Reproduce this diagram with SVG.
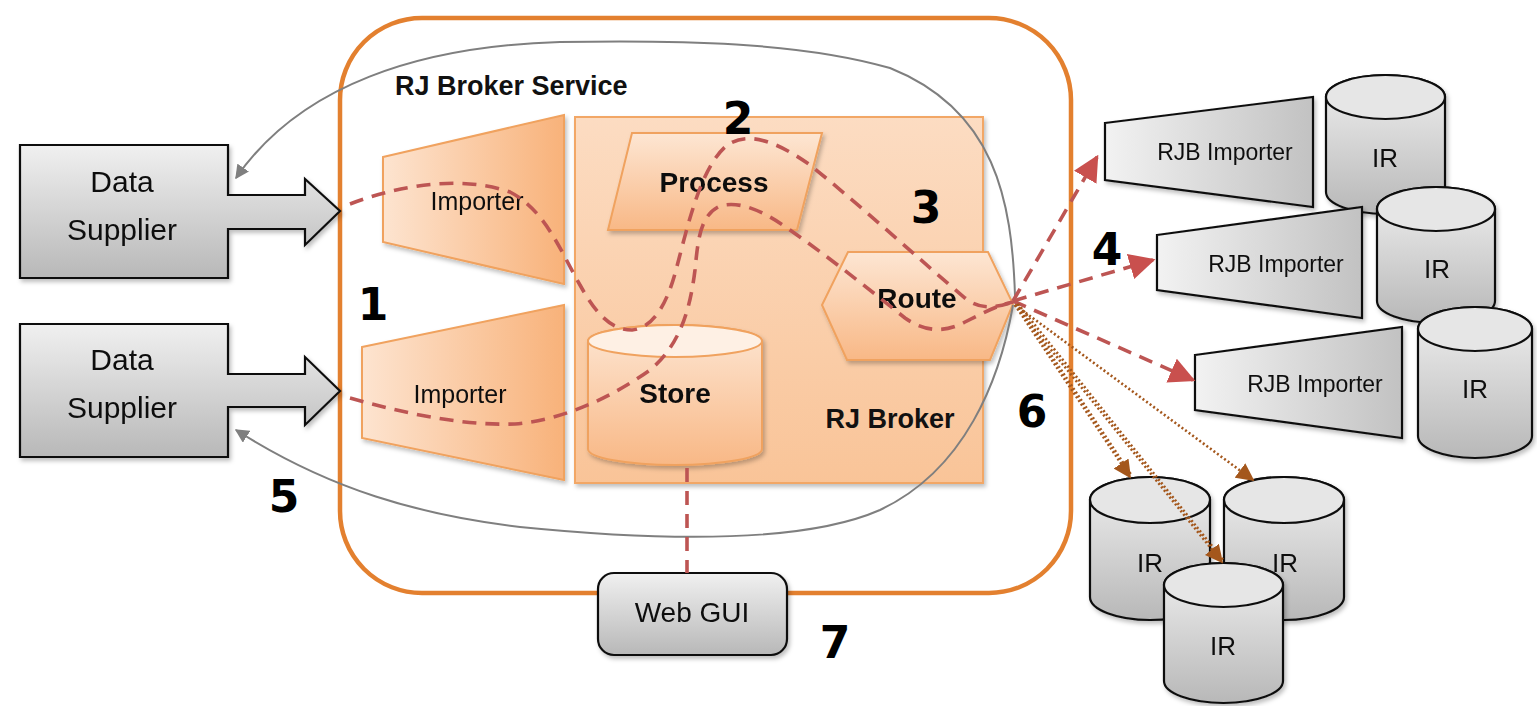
<svg xmlns="http://www.w3.org/2000/svg" width="1537" height="706" viewBox="0 0 1537 706">
<defs>
<style>
.t{font-family:"Liberation Sans",Arial,sans-serif;fill:#111;text-anchor:middle}
.b{font-weight:bold}
.num{font-family:"DejaVu Sans",Verdana,sans-serif;font-weight:bold;font-size:44px;fill:#000;text-anchor:middle}
.gray{fill:url(#gGray);stroke:#111;stroke-width:2.2}
.grayL{fill:#e6e6e6;stroke:#111;stroke-width:2.2}
.org{stroke:#f0a25e;stroke-width:2}
.dash{fill:none;stroke:#bd5553;stroke-width:3.6;stroke-dasharray:14 9}
.loop{fill:none;stroke:#7f7f7f;stroke-width:2}
.dot{fill:none;stroke:#a4571c;stroke-width:2.6;stroke-dasharray:2 2.4}
</style>
<linearGradient id="gGray" x1="0" y1="0" x2="0" y2="1"><stop offset="0" stop-color="#f0f0f0"/><stop offset="1" stop-color="#b8b8b8"/></linearGradient>
<linearGradient id="gGrayH" x1="0" y1="0" x2="1" y2="0"><stop offset="0" stop-color="#f2f2f2"/><stop offset="1" stop-color="#c2c2c2"/></linearGradient>
<linearGradient id="gOrgH" x1="0" y1="0" x2="1" y2="0"><stop offset="0" stop-color="#fde4d0"/><stop offset="1" stop-color="#f8b27a"/></linearGradient>
<linearGradient id="gOrgV" x1="0" y1="0" x2="0" y2="1"><stop offset="0" stop-color="#fde6d3"/><stop offset="1" stop-color="#f8b886"/></linearGradient>
<linearGradient id="gBroker" x1="0" y1="0" x2="0" y2="1"><stop offset="0" stop-color="#fcdcc2"/><stop offset="1" stop-color="#f9c498"/></linearGradient>
<filter id="sh" x="-10%" y="-10%" width="130%" height="130%"><feDropShadow dx="2" dy="3" stdDeviation="2" flood-color="#000" flood-opacity="0.25"/></filter>
<marker id="mGray" viewBox="0 0 10 10" refX="9" refY="5" markerWidth="14" markerHeight="14" markerUnits="userSpaceOnUse" orient="auto"><path d="M0 0 L10 5 L0 10 Z" fill="#7f7f7f"/></marker>
<marker id="mRed" viewBox="0 0 10 10" refX="9" refY="5" markerWidth="26" markerHeight="26" markerUnits="userSpaceOnUse" orient="auto"><path d="M0 0 L10 5 L0 10 Z" fill="#c9504e"/></marker>
<marker id="mBrown" viewBox="0 0 10 10" refX="9" refY="5" markerWidth="18" markerHeight="18" markerUnits="userSpaceOnUse" orient="auto"><path d="M0 0 L10 5 L0 10 Z" fill="#a4571c"/></marker>
</defs>
<rect width="1537" height="706" fill="#fff"/>

<g id="service">
<rect x="340" y="18" width="731" height="575" rx="82" fill="none" stroke="#e3802f" stroke-width="4.5"/>
<text class="t b" x="395" y="95" font-size="27" style="text-anchor:start">RJ Broker Service</text>
</g>

<g id="rj-broker">
<rect x="575" y="117" width="408" height="366" fill="url(#gBroker)" stroke="#f2a766" stroke-width="2" filter="url(#sh)"/>
<text class="t b" x="890" y="428" font-size="27">RJ Broker</text>
</g>

<g id="supplier1" filter="url(#sh)">
<path class="gray" d="M20 145 H228 V195 H305 V179 L340 211 L305 245 V229 H228 V278 H20 Z"/>
<text class="t" x="122" y="192" font-size="30">Data</text>
<text class="t" x="122" y="240" font-size="30">Supplier</text>
</g>
<g id="supplier2" filter="url(#sh)">
<path class="gray" d="M20 324 H228 V374 H305 V357 L340 391 L305 425 V407 H228 V457 H20 Z"/>
<text class="t" x="122" y="370" font-size="30">Data</text>
<text class="t" x="122" y="418" font-size="30">Supplier</text>
</g>

<g id="importer1" filter="url(#sh)">
<path class="org" d="M383 157 L564 115 L564 284 L383 242 Z" fill="url(#gOrgH)"/>
<text class="t" x="477" y="210" font-size="25">Importer</text>
</g>
<g id="importer2" filter="url(#sh)">
<path class="org" d="M362 347 L564 305 L564 480 L362 438 Z" fill="url(#gOrgH)"/>
<text class="t" x="460" y="403" font-size="25">Importer</text>
</g>

<g id="process" filter="url(#sh)">
<path class="org" d="M632 133 L822 133 L797 230 L608 230 Z" fill="url(#gOrgV)"/>
<text class="t b" x="714" y="192" font-size="28">Process</text>
</g>

<g id="route" filter="url(#sh)">
<path class="org" d="M848 252 L988 252 L1013 304 L990 360 L847 360 L822 305 Z" fill="url(#gOrgV)"/>
<text class="t b" x="917" y="308" font-size="28">Route</text>
</g>

<g id="store" filter="url(#sh)">
<path class="org" d="M588 341 A87 16 0 0 1 762 341 V449 A87 16 0 0 1 588 449 Z" fill="url(#gOrgV)"/>
<ellipse class="org" cx="675" cy="341" rx="87" ry="16" fill="#fef0e4"/>
<text class="t b" x="675" y="403" font-size="28">Store</text>
</g>

<g id="webgui" filter="url(#sh)">
<rect class="gray" x="598" y="573" width="189" height="82" rx="16"/>
<text class="t" x="692" y="622" font-size="28">Web GUI</text>
</g>

<g id="ir1" filter="url(#sh)">
<path class="gray" d="M1326 97 A59.5 22 0 0 1 1445 97 V192 A59.5 22 0 0 1 1326 192 Z"/>
<ellipse class="grayL" cx="1385.5" cy="97" rx="59.5" ry="22"/>
<text class="t" x="1385" y="167" font-size="26">IR</text>
</g>
<g id="rjb1" filter="url(#sh)">
<path d="M1105 123 L1313 97 L1313 207 L1105 180 Z" fill="url(#gGrayH)" stroke="#111" stroke-width="2.2"/>
<text class="t" x="1225" y="160" font-size="23">RJB Importer</text>
</g>
<g id="ir2" filter="url(#sh)">
<path class="gray" d="M1377 209 A59 22 0 0 1 1495 209 V301 A59 22 0 0 1 1377 301 Z"/>
<ellipse class="grayL" cx="1436" cy="209" rx="59" ry="22"/>
<text class="t" x="1437" y="278" font-size="26">IR</text>
</g>
<g id="rjb2" filter="url(#sh)">
<path d="M1157 235 L1362 207 L1362 318 L1157 290 Z" fill="url(#gGrayH)" stroke="#111" stroke-width="2.2"/>
<text class="t" x="1276" y="272" font-size="23">RJB Importer</text>
</g>
<g id="ir3" filter="url(#sh)">
<path class="gray" d="M1418 329 A57 22 0 0 1 1532 329 V436 A57 22 0 0 1 1418 436 Z"/>
<ellipse class="grayL" cx="1475" cy="329" rx="57" ry="22"/>
<text class="t" x="1475" y="398" font-size="26">IR</text>
</g>
<g id="rjb3" filter="url(#sh)">
<path d="M1195 355 L1402 327 L1402 438 L1195 410 Z" fill="url(#gGrayH)" stroke="#111" stroke-width="2.2"/>
<text class="t" x="1315" y="392" font-size="23">RJB Importer</text>
</g>

<g id="ir4" filter="url(#sh)">
<path class="gray" d="M1090 500 A60 23 0 0 1 1210 500 V597 A60 23 0 0 1 1090 597 Z"/>
<ellipse class="grayL" cx="1150" cy="500" rx="60" ry="23"/>
<text class="t" x="1150" y="572" font-size="26">IR</text>
</g>
<g id="ir5" filter="url(#sh)">
<path class="gray" d="M1224 500 A60 23 0 0 1 1344 500 V597 A60 23 0 0 1 1224 597 Z"/>
<ellipse class="grayL" cx="1284" cy="500" rx="60" ry="23"/>
<text class="t" x="1285" y="572" font-size="26">IR</text>
</g>
<g id="ir6" filter="url(#sh)">
<path class="gray" d="M1164 585 A59.5 22 0 0 1 1283 585 V681 A59.5 22 0 0 1 1164 681 Z"/>
<ellipse class="grayL" cx="1223.5" cy="585" rx="59.5" ry="22"/>
<text class="t" x="1223" y="655" font-size="26">IR</text>
</g>

<g id="connectors">
<path class="loop" marker-end="url(#mGray)" d="M1015 296 C1012 200 995 110 890 68 C800 42 680 40 560 42 C420 46 300 85 236 178"/>
<path class="loop" marker-end="url(#mGray)" d="M1013 305 C1000 380 965 470 880 510 C800 545 650 540 520 527 C420 515 330 490 236 430"/>
<path class="dash" d="M350 204 C400 185 460 175 510 192 C545 210 560 250 580 285 C595 312 610 330 632 330 C655 328 668 300 676 270 C688 225 700 170 725 147 C745 130 775 140 810 165 C860 205 920 260 965 298 C980 310 995 308 1013 302"/>
<path class="dash" d="M350 398 C400 412 460 426 515 424 C565 420 615 395 650 370 C680 345 690 310 695 270 C698 240 700 215 720 206 C740 200 765 212 790 230 C830 258 870 290 905 318 C925 332 945 333 965 322 C985 312 998 305 1013 302"/>
<path class="dash" d="M687 468 V573"/>
<path class="dash" marker-end="url(#mRed)" d="M1013 301 L1097 157"/>
<path class="dash" marker-end="url(#mRed)" d="M1013 301 L1153 260"/>
<path class="dash" marker-end="url(#mRed)" d="M1013 301 L1193 380"/>
<path class="dot" marker-end="url(#mBrown)" d="M1015 305 L1130 477"/>
<path class="dot" d="M1017 304 L1132 476"/>
<path class="dot" marker-end="url(#mBrown)" d="M1015 305 L1222 562"/>
<path class="dot" d="M1018 304 L1224 561"/>
<path class="dot" marker-end="url(#mBrown)" d="M1015 305 L1253 480"/>
</g>

<g id="numbers">
<text class="num" x="373" y="320">1</text>
<text class="num" x="738" y="134">2</text>
<text class="num" x="926" y="223">3</text>
<text class="num" x="1107" y="265">4</text>
<text class="num" x="284" y="512">5</text>
<text class="num" x="1032" y="427">6</text>
<text class="num" x="835" y="658">7</text>
</g>
</svg>
